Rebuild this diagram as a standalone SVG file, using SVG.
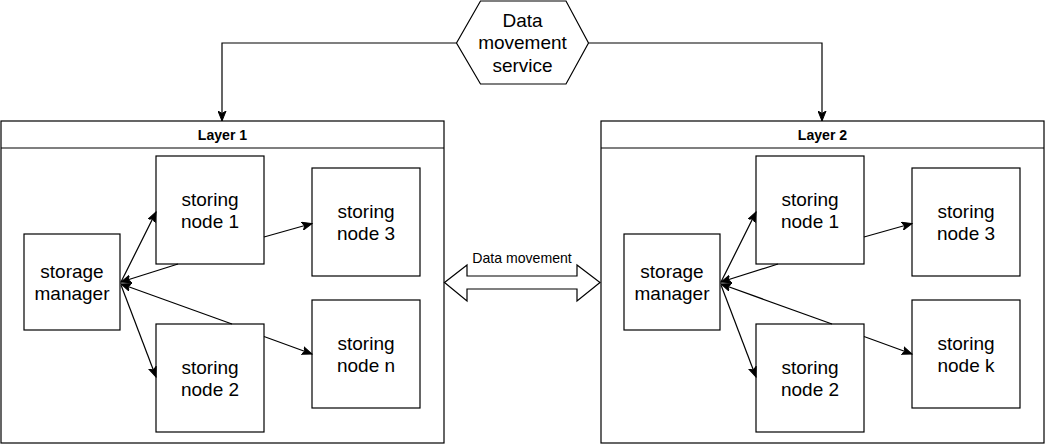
<svg xmlns="http://www.w3.org/2000/svg" width="1046" height="446" viewBox="0 0 1046 446">
<style>
.box{fill:#fff;stroke:#000;stroke-width:1.2}
.t{font-family:"Liberation Sans",Arial,sans-serif;font-size:19px;fill:#000;text-anchor:middle}
.h{font-family:"Liberation Sans",Arial,sans-serif;font-size:14.1px;font-weight:bold;fill:#000;text-anchor:middle}
.s{font-family:"Liberation Sans",Arial,sans-serif;font-size:14.1px;fill:#000;text-anchor:middle}
.e{fill:none;stroke:#000;stroke-width:1.2}
</style>
<defs>
<marker id="a" markerUnits="userSpaceOnUse" markerWidth="11" markerHeight="9" refX="10" refY="4.5" orient="auto">
<path d="M0,0.5 L10,4.5 L0,8.5 L2.5,4.5 Z" fill="#000" stroke="#000" stroke-width="1"/>
</marker>
</defs>
<rect width="1046" height="446" fill="#fff"/>
<g id="layer1">
<rect class="box" x="1" y="121" width="443" height="322"/>
<line x1="1" y1="148" x2="444" y2="148" stroke="#000" stroke-width="1.2"/>
<text class="h" x="222.5" y="139.5">Layer 1</text>
</g>
<g id="layer2">
<rect class="box" x="601" y="121" width="443" height="322"/>
<line x1="601" y1="148" x2="1044" y2="148" stroke="#000" stroke-width="1.2"/>
<text class="h" x="822.5" y="139.5">Layer 2</text>
</g>
<g id="dms">
<polygon class="box" points="456.5,43 480.5,1 566,1 588.5,43 566,84 480.5,84"/>
<text class="t" x="522.5" y="26.8">Data</text>
<text class="t" x="522.5" y="49.3">movement</text>
<text class="t" x="522.5" y="71.8">service</text>
</g>
<g id="l1-manager"><rect class="box" x="24" y="234" width="96" height="96"/><text class="t" x="72" y="277.5">storage</text><text class="t" x="72" y="300">manager</text></g>
<g id="l1-node1"><rect class="box" x="156" y="156" width="108" height="108"/><text class="t" x="210" y="205.5">storing</text><text class="t" x="210" y="228">node 1</text></g>
<g id="l1-node3"><rect class="box" x="312" y="168" width="108" height="108"/><text class="t" x="366" y="217.5">storing</text><text class="t" x="366" y="240">node 3</text></g>
<g id="l1-node2"><rect class="box" x="156" y="324" width="108" height="108"/><text class="t" x="210" y="373.5">storing</text><text class="t" x="210" y="396">node 2</text></g>
<g id="l1-noden"><rect class="box" x="312" y="300" width="108" height="108"/><text class="t" x="366" y="349.5">storing</text><text class="t" x="366" y="372">node n</text></g>
<g id="l2-manager"><rect class="box" x="624" y="234" width="96" height="96"/><text class="t" x="672" y="277.5">storage</text><text class="t" x="672" y="300">manager</text></g>
<g id="l2-node1"><rect class="box" x="756" y="156" width="108" height="108"/><text class="t" x="810" y="205.5">storing</text><text class="t" x="810" y="228">node 1</text></g>
<g id="l2-node3"><rect class="box" x="912" y="168" width="108" height="108"/><text class="t" x="966" y="217.5">storing</text><text class="t" x="966" y="240">node 3</text></g>
<g id="l2-node2"><rect class="box" x="756" y="324" width="108" height="108"/><text class="t" x="810" y="373.5">storing</text><text class="t" x="810" y="396">node 2</text></g>
<g id="l2-nodek"><rect class="box" x="912" y="300" width="108" height="108"/><text class="t" x="966" y="349.5">storing</text><text class="t" x="966" y="372">node k</text></g>
<g id="connectors">
<path class="e" d="M456.5,43 H222 V121" marker-end="url(#a)"/>
<path class="e" d="M588.5,43 H822 V121" marker-end="url(#a)"/>
<path class="e" d="M121,282 L156,212" marker-end="url(#a)"/>
<path class="e" d="M178,264 L121,282" marker-end="url(#a)"/>
<path class="e" d="M232,324 L121,284" marker-end="url(#a)"/>
<path class="e" d="M121,285 L156,377" marker-end="url(#a)"/>
<path class="e" d="M264,237 L312,223.5" marker-end="url(#a)"/>
<path class="e" d="M264,336.5 L312,354" marker-end="url(#a)"/>
<path class="e" d="M721,282 L756,212" marker-end="url(#a)"/>
<path class="e" d="M778,264 L721,282" marker-end="url(#a)"/>
<path class="e" d="M832,324 L721,284" marker-end="url(#a)"/>
<path class="e" d="M721,285 L756,377" marker-end="url(#a)"/>
<path class="e" d="M864,237 L912,223.5" marker-end="url(#a)"/>
<path class="e" d="M864,336.5 L912,354" marker-end="url(#a)"/>
<polygon class="box" points="444.5,282.5 467,265 467,276 577,276 577,265 600,282.5 577,301 577,289 467,289 467,301"/>
<text class="s" x="522" y="262.5">Data movement</text>
</g>
</svg>
